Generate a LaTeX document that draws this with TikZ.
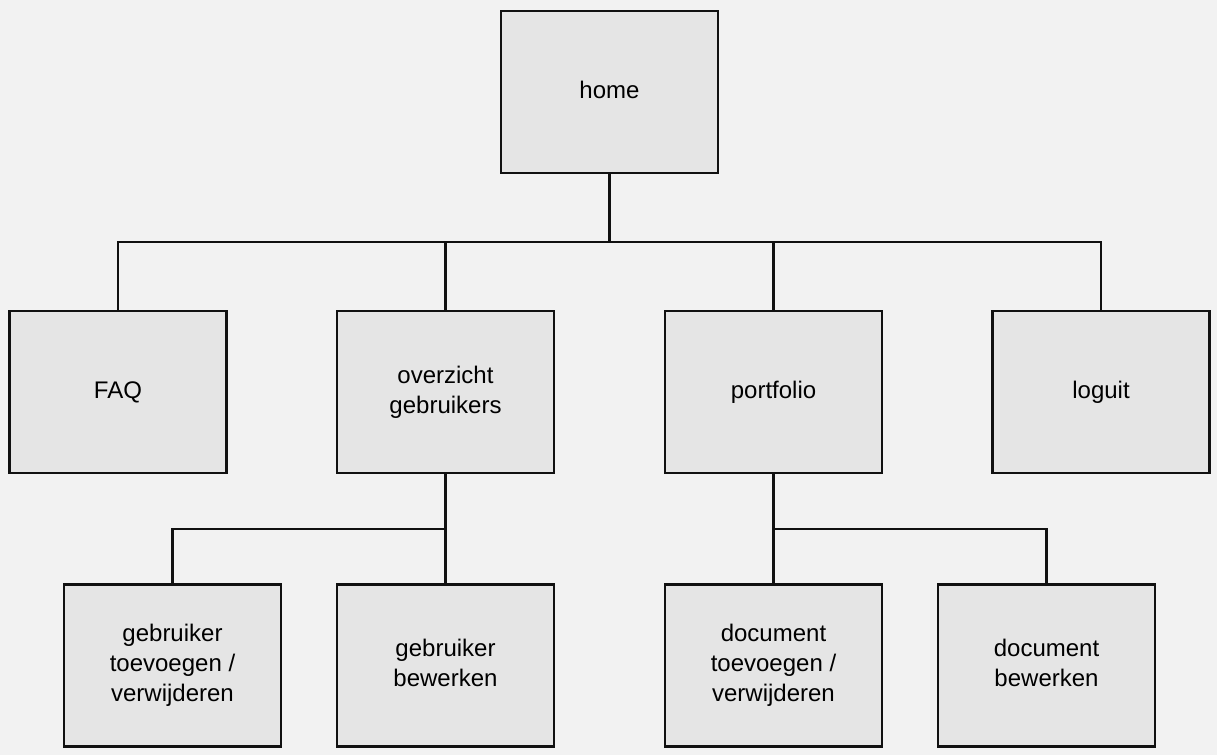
\documentclass[tikz,border=0pt]{standalone}
\usepackage{fontspec}
\setmainfont{Liberation Sans}
\definecolor{bgcol}{HTML}{F2F2F2}
\definecolor{boxcol}{HTML}{E5E5E5}
\definecolor{linecol}{HTML}{111111}
\newcommand{\liftedtext}[2]{\raisebox{#1}{\begin{tabular}{@{}c@{}}#2\end{tabular}}}
\begin{document}
\begin{tikzpicture}[x=1pt,y=-1pt,
  pagebox/.style={rectangle,draw=linecol,fill=boxcol,line width=2.2pt,
    minimum width=217pt,minimum height=162pt,inner sep=0pt,align=center,
    font=\fontsize{24}{30}\selectfont},
  conn/.style={draw=linecol,line width=2.2pt}]
\fill[bgcol] (0,0) rectangle (1217,755);
\useasboundingbox (0,0) rectangle (1217,755);
\node[pagebox] (home) at (609.5,92) {\liftedtext{2pt}{home}};
\node[pagebox] (faq) at (118,392) {FAQ};
\node[pagebox] (ov) at (445.5,392) {overzicht\\gebruikers};
\node[pagebox] (pf) at (773.5,392) {portfolio};
\node[pagebox] (lo) at (1101,392) {loguit};
\node[pagebox] (gt) at (172.5,665.5) {gebruiker\\toevoegen /\\verwijderen};
\node[pagebox] (gb) at (445.5,665.5) {\liftedtext{4pt}{gebruiker\\bewerken}};
\node[pagebox] (dt) at (773.5,665.5) {document\\toevoegen /\\verwijderen};
\node[pagebox] (db) at (1046.5,665.5) {\liftedtext{4pt}{document\\bewerken}};
\coordinate (j1) at (609.5,242);
\coordinate (j2) at (445.5,529);
\coordinate (j3) at (773.5,529);
\draw[conn] (home.south) -- (j1);
\draw[conn] (faq.north) |- (j1);
\draw[conn] (lo.north) |- (j1);
\draw[conn] (ov.north) -- (ov.north |- j1);
\draw[conn] (pf.north) -- (pf.north |- j1);
\draw[conn] (ov.south) -- (j2);
\draw[conn] (gt.north) |- (j2);
\draw[conn] (gb.north) -- (j2);
\draw[conn] (pf.south) -- (j3);
\draw[conn] (dt.north) -- (j3);
\draw[conn] (db.north) |- (j3);
\end{tikzpicture}
\end{document}
